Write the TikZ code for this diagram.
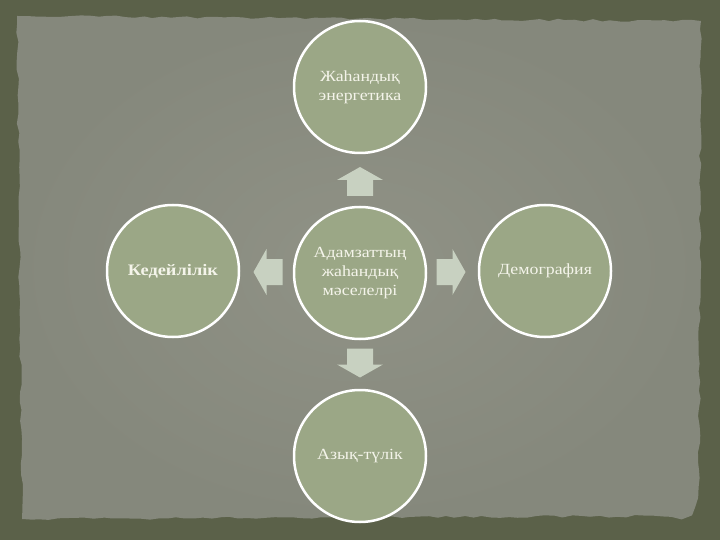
\documentclass[tikz,border=0pt]{standalone}
\usepackage{fontspec}
\setmainfont{Liberation Serif}[FakeStretch=1.15]
\usetikzlibrary{decorations.pathmorphing,calc}
\definecolor{outerbg}{HTML}{5B6149}
\definecolor{paper}{HTML}{85887C}
\definecolor{paperlight}{HTML}{909286}
\definecolor{circfill}{HTML}{9BA786}
\definecolor{arrowc}{HTML}{C8D1C1}
\definecolor{txt}{HTML}{F4F4EA}
\tikzset{
  circ/.style={circle,draw=white,line width=2.5pt,fill=circfill,minimum size=132pt,
    inner sep=0pt,align=center,text=txt,font=\fontsize{15.5}{19}\selectfont},
  bigtext/.style={font=\fontsize{15.5}{19}\selectfont},
  boldtext/.style={font=\fontsize{16}{19}\selectfont\bfseries},
  barrow/.pic={\fill[arrowc] (-16,-13) -- (0,-13) -- (0,-23) -- (13,0) -- (0,23) -- (0,13) -- (-16,13) -- cycle;}
}
\begin{document}
\begin{tikzpicture}[x=1pt,y=-1pt]
\useasboundingbox (0,0) rectangle (720,540);
\fill[outerbg] (0,0) rectangle (720,540);
\pgfmathsetseed{11}
\shade[inner color=paperlight,outer color=paper,decorate,decoration={random steps,segment length=9pt,amplitude=1.3pt}]
  (17,16) -- (701,21) -- (699,470) to[out=-90,in=0] (680,516) -- (22,519) -- cycle;
\node[circ] (t) at (360,87) {Жаһандық\\энергетика};
\node[circ] (c) at (360,273) {Адамзаттың\\жаһандық\\мәселелрі};
\node[circ,boldtext] (l) at (173,271) {Кедейлілік};
\node[circ,bigtext] (r) at (545,271) {Демография};
\node[circ] (b) at (360,456) {Азық-түлік};
\pic[rotate=90] at ($(c)!0.5!(t)$) {barrow};
\pic[rotate=-90] at ($(c)!0.5!(b)$) {barrow};
\pic[rotate=180] at ($(c)!0.5!(l)$) {barrow};
\pic at ($(c)!0.5!(r)$) {barrow};
\end{tikzpicture}
\end{document}
